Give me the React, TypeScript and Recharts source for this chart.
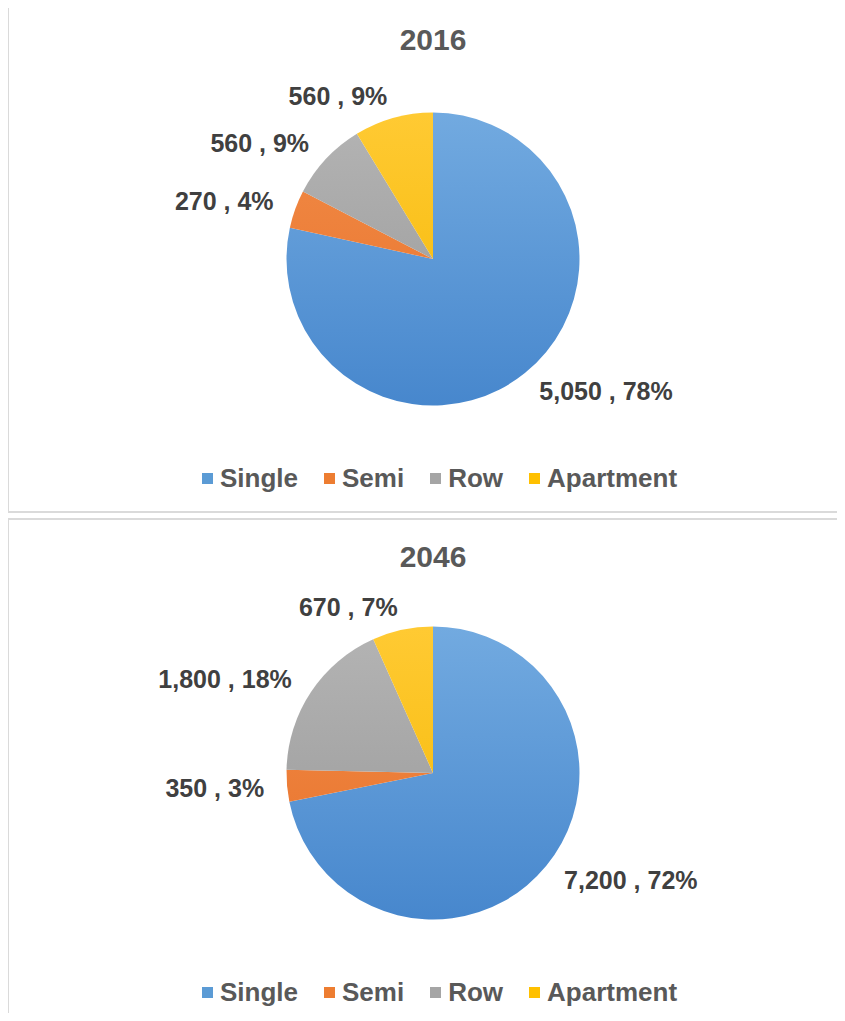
import React from 'react';
import { PieChart, Pie, Cell, Legend } from 'recharts';

const categories = ['Single', 'Semi', 'Row', 'Apartment'];
const values2016 = [5050, 270, 560, 560];
const values2046 = [7200, 350, 1800, 670];
const years = ['2016', '2046'];

const swatch = ['#5b9bd5', '#ed7d31', '#a5a5a5', '#ffc000'];
const gradTop = ['#72aae0', '#f28c48', '#b4b4b4', '#ffca33'];
const gradBottom = ['#4787cd', '#e7712a', '#979797', '#f4b700'];

const FONT = '"Liberation Sans", Arial, Helvetica, sans-serif';
const CX = 433;
const CY = 259;
const R = 146.5;
const RAD = Math.PI / 180;

function makeLabel(total: number) {
  return (props: any) => {
    const { cx, cy, midAngle, outerRadius, value } = props;
    const rr = outerRadius + 23;
    const c = Math.cos(-midAngle * RAD);
    const s = Math.sin(-midAngle * RAD);
    const x = cx + rr * c;
    const y = cy + rr * s;
    const pct = Math.round((value / total) * 100);
    return (
      <text
        x={x}
        y={y}
        textAnchor={c >= 0 ? 'start' : 'end'}
        dominantBaseline="central"
        fill="#404040"
        fontFamily={FONT}
        fontWeight="bold"
        fontSize={25}
      >
        {`${Number(value).toLocaleString('en-US')} , ${pct}%`}
      </text>
    );
  };
}

const renderLegend = () => (
  <div
    style={{
      display: 'flex',
      alignItems: 'center',
      fontFamily: FONT,
      fontWeight: 'bold',
      fontSize: 26,
      lineHeight: '26px',
      color: '#595959',
      whiteSpace: 'nowrap',
    }}
  >
    {categories.map((c, i) => (
      <div key={c} style={{ display: 'flex', alignItems: 'center', marginRight: i < categories.length - 1 ? 26 : 0 }}>
        <span style={{ width: 11, height: 11, background: swatch[i], marginRight: 7, display: 'inline-block' }} />
        <span>{c}</span>
      </div>
    ))}
  </div>
);

function Panel({ year, values, top, borderTop, titleTop }: { year: string; values: number[]; top: number; borderTop: number; titleTop: number }) {
  const data = categories.map((name, i) => ({ name, value: values[i] }));
  const total = values.reduce((a, b) => a + b, 0);
  return (
    <div style={{ position: 'absolute', left: 0, top, width: 845, height: 515 }}>
      <div
        style={{
          position: 'absolute',
          left: 7,
          top: borderTop,
          width: 900,
          height: 509,
          border: '2px solid #dadada',
          boxSizing: 'border-box',
        }}
      />
      <div
        style={{
          position: 'absolute',
          left: 0,
          width: 866,
          top: titleTop,
          textAlign: 'center',
          fontFamily: FONT,
          fontWeight: 'bold',
          fontSize: 30,
          lineHeight: '30px',
          color: '#595959',
        }}
      >
        {year}
      </div>
      <div style={{ position: 'absolute', left: 0, top: 0 }}>
        <PieChart width={845} height={515} margin={{ top: 0, right: 0, bottom: 0, left: 0 }}>
          <Pie
            data={data}
            dataKey="value"
            nameKey="name"
            cx={CX}
            cy={CY}
            outerRadius={R}
            startAngle={90}
            endAngle={-270}
            stroke="none"
            labelLine={false}
            label={makeLabel(total)}
            isAnimationActive={false}
          >
            {data.map((d, i) => (
              <Cell key={d.name} fill={`url(#grad-${year}-${i})`} stroke="none" />
            ))}
          </Pie>
          <Legend content={renderLegend} wrapperStyle={{ position: 'absolute', top: 465, left: 202, width: 'auto' }} />
        </PieChart>
      </div>
    </div>
  );
}

export default function App() {
  return (
    <div style={{ position: 'relative', margin: -8, width: 845, height: 1021, overflow: 'hidden', background: '#fff' }}>
      <svg width={0} height={0} style={{ position: 'absolute' }}>
        <defs>
          {years.map((y) =>
            categories.map((c, i) => (
              <linearGradient key={`${y}-${i}`} id={`grad-${y}-${i}`} gradientUnits="userSpaceOnUse" x1={0} y1={CY - R} x2={0} y2={CY + R}>
                <stop offset="0%" stopColor={gradTop[i]} />
                <stop offset="100%" stopColor={gradBottom[i]} />
              </linearGradient>
            ))
          )}
        </defs>
      </svg>
      <Panel year={years[0]} values={values2016} top={0} borderTop={4} titleTop={25} />
      <Panel year={years[1]} values={values2046} top={514} borderTop={4} titleTop={28} />
    </div>
  );
}
